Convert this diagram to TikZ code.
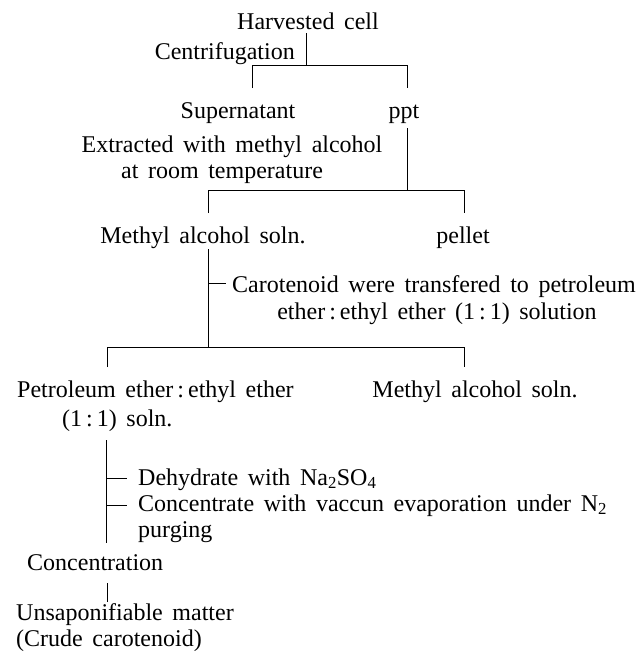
\documentclass[tikz,border=0pt]{standalone}
\usepackage{fontspec}
\setmainfont{Liberation Serif}[WordSpace=1.6]
\begin{document}
\begin{tikzpicture}[x=1pt,y=-1pt,
  txt/.style={inner sep=0pt,anchor=base,font=\fontsize{24}{27}\selectfont},
  ln/.style={line width=0.7pt}]
\useasboundingbox (0,0) rectangle (644,662);
% top
\node[txt] (harv) at (308,29) {Harvested cell};
\node[txt,anchor=base east] (cent) at (295,59) {Centrifugation};
\coordinate (c0) at (306,33);
\coordinate (c1) at (306,65);
\coordinate (l1) at (252,65);
\coordinate (r1) at (407,65);
\coordinate (l1b) at (252,88);
\coordinate (r1b) at (407,88);
\draw[ln] (c0) -- (c1);
\draw[ln] (l1b) -- (l1) -- (r1) -- (r1b);
\node[txt] (sup) at (238,118) {Supernatant};
\node[txt] (ppt) at (404,118) {ppt};
\node[txt] (ext1) at (232,152) {Extracted with methyl alcohol};
\node[txt] (ext2) at (222,178) {at room temperature};
\coordinate (p0) at (407,128);
\coordinate (p1) at (407,190);
\draw[ln] (p0) -- (p1);
\coordinate (l2) at (208,190);
\coordinate (r2) at (464,190);
\coordinate (l2b) at (208,213);
\coordinate (r2b) at (464,213);
\draw[ln] (l2b) -- (l2) -- (r2) -- (r2b);
\node[txt] (meth1) at (203,243) {Methyl alcohol soln.};
\node[txt] (pel) at (463,243) {pellet};
\coordinate (m0) at (208,249);
\coordinate (m1) at (208,347);
\draw[ln] (m0) -- (m1);
\coordinate (t0) at (208,283);
\coordinate (t1) at (226,283);
\draw[ln] (t0) -- (t1);
\node[txt] (car1) at (434,292) {Carotenoid were transfered to petroleum};
\node[txt] (car2) at (437,319) {ether\,:\,ethyl ether (1\,:\,1) solution};
\coordinate (l3) at (107,347);
\coordinate (r3) at (464,347);
\coordinate (l3b) at (107,367);
\coordinate (r3b) at (464,367);
\draw[ln] (l3b) -- (l3) -- (r3) -- (r3b);
\node[txt,anchor=base west] (pet1) at (17,397) {Petroleum ether\,:\,ethyl ether};
\node[txt,anchor=base west] (pet2) at (62,426) {(1\,:\,1) soln.};
\node[txt] (meth2) at (475,397) {Methyl alcohol soln.};
\coordinate (s0) at (106,440);
\coordinate (s1) at (106,543);
\draw[ln] (s0) -- (s1);
\coordinate (d0) at (106,478);
\coordinate (d1) at (127,478);
\coordinate (e0) at (106,505);
\coordinate (e1) at (127,505);
\draw[ln] (d0) -- (d1);
\draw[ln] (e0) -- (e1);
\node[txt,anchor=base west] (dehy) at (138,485) {Dehydrate with Na\textsubscript{2}SO\textsubscript{4}};
\node[txt,anchor=base west] (conc) at (138,511) {Concentrate with vaccun evaporation under N\textsubscript{2}};
\node[txt,anchor=base west] (purg) at (138,537) {purging};
\node[txt,anchor=base west] (concn) at (27,570) {Concentration};
\coordinate (u0) at (107,583);
\coordinate (u1) at (107,602);
\draw[ln] (u0) -- (u1);
\node[txt,anchor=base west] (uns1) at (16,620) {Unsaponifiable matter};
\node[txt,anchor=base west] (uns2) at (16,646) {(Crude carotenoid)};
\end{tikzpicture}
\end{document}
